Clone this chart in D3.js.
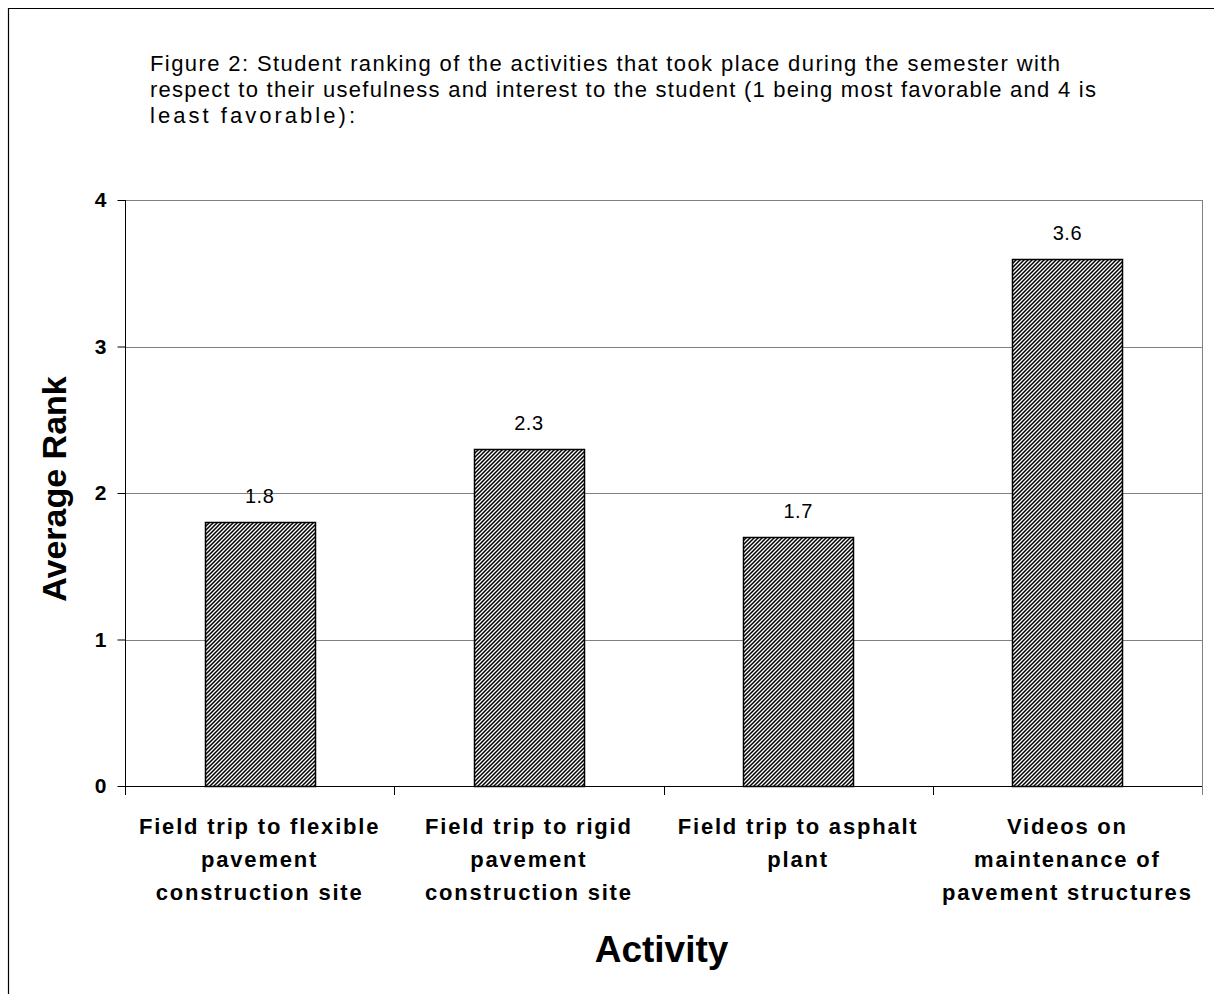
<!DOCTYPE html>
<html>
<head>
<meta charset="utf-8">
<script src="https://cdn.jsdelivr.net/npm/d3@7/dist/d3.min.js"></script>
<style>
  html, body { margin: 0; padding: 0; background: #fff; }
  svg { display: block; font-family: "Liberation Sans", Arial, sans-serif; }
</style>
</head>
<body>
<svg id="chart" width="1214" height="994"></svg>
<script>
// Activities ranked by students, with their average rank
const categories = [
  ["Field trip to flexible", "pavement", "construction site"],
  ["Field trip to rigid", "pavement", "construction site"],
  ["Field trip to asphalt", "plant"],
  ["Videos on", "maintenance of", "pavement structures"]
];
const averageRank = [1.8, 2.3, 1.7, 3.6];
const yTicks = [0, 1, 2, 3, 4];
const titleLines = [
  "Figure 2: Student ranking of  the activities that took place during the semester with",
  "respect to their usefulness  and interest to the student (1 being most favorable and 4 is",
  "least favorable):"
];
const titleWidths = [910, 946, 205];

const svg = d3.select("#chart");
const W = 1214, H = 994;
const plot = { left: 125, top: 200, right: 1202, bottom: 786 };

// Outer frame (top and left edges)
svg.append("path")
  .attr("d", `M8.5,${H} L8.5,8.5 L${W},8.5`)
  .attr("fill", "none").attr("stroke", "#000").attr("stroke-width", 1.2);

// Title
const title = svg.append("text").attr("font-size", 22).attr("fill", "#000");
titleLines.forEach((t, i) => {
  title.append("tspan").attr("x", 150).attr("y", 71 + i * 26)
    .attr("textLength", titleWidths[i]).attr("lengthAdjust", "spacing").text(t);
});

// Hatch pattern for the bars
const defs = svg.append("defs");
const pat = defs.append("pattern")
  .attr("id", "hatch").attr("patternUnits", "userSpaceOnUse")
  .attr("width", 4).attr("height", 4);
pat.append("rect").attr("width", 4).attr("height", 4).attr("fill", "#fff");
pat.append("path")
  .attr("d", "M-1,1 l2,-2 M0,4 l4,-4 M3,5 l2,-2")
  .attr("stroke", "#000").attr("stroke-width", 1.5);

const idx = d3.range(categories.length);
const x = d3.scaleBand().domain(idx).range([plot.left, plot.right]).paddingInner(0).paddingOuter(0);
const y = d3.scaleLinear().domain([0, 4]).range([plot.bottom, plot.top]);

// Horizontal gridlines
svg.append("g").selectAll("line").data(yTicks.filter(d => d > 0)).join("line")
  .attr("x1", plot.left).attr("x2", plot.right)
  .attr("y1", d => Math.round(y(d)) + 0.5).attr("y2", d => Math.round(y(d)) + 0.5)
  .attr("stroke", "#808080").attr("stroke-width", 1);

// Right edge of plot area
svg.append("line")
  .attr("x1", plot.right + 0.5).attr("x2", plot.right + 0.5)
  .attr("y1", plot.top).attr("y2", plot.bottom + 9)
  .attr("stroke", "#808080");

// Bars
const barW = 110;
svg.append("g").selectAll("rect").data(idx).join("rect")
  .attr("x", i => Math.round(x(i) + x.bandwidth() / 2 - barW / 2) + 0.5)
  .attr("y", i => Math.round(y(averageRank[i])) + 0.5)
  .attr("width", barW)
  .attr("height", i => y(0) - Math.round(y(averageRank[i])))
  .attr("fill", "url(#hatch)")
  .attr("stroke", "#000").attr("stroke-width", 1.5);

// Value labels
svg.append("g").selectAll("text").data(idx).join("text")
  .attr("x", i => x(i) + x.bandwidth() / 2)
  .attr("y", i => y(averageRank[i]) - 19)
  .attr("text-anchor", "middle").attr("font-size", 20).attr("letter-spacing", 0.5)
  .text(i => averageRank[i].toFixed(1));

// Y axis
const yAxis = svg.append("g").attr("transform", `translate(${plot.left + 0.5},0)`)
  .call(d3.axisLeft(y).tickValues(yTicks).tickSize(8).tickPadding(11).tickFormat(d3.format("d")));
yAxis.select(".domain").attr("stroke", "#000").attr("d", `M0,${plot.top}V${plot.bottom}`);
yAxis.selectAll(".tick line").attr("stroke", "#000");
yAxis.selectAll(".tick text").attr("font-size", 21).attr("font-weight", "bold")
  .attr("font-family", "Liberation Sans, Arial, sans-serif").attr("fill", "#000");

// X axis with ticks on category boundaries
const xg = svg.append("g");
xg.append("line")
  .attr("x1", plot.left).attr("x2", plot.right)
  .attr("y1", plot.bottom + 0.5).attr("y2", plot.bottom + 0.5)
  .attr("stroke", "#000");
xg.selectAll("line.tk").data(idx.concat([idx.length])).join("line").attr("class", "tk")
  .attr("x1", i => Math.round(i < idx.length ? x(i) : plot.right) + 0.5)
  .attr("x2", i => Math.round(i < idx.length ? x(i) : plot.right) + 0.5)
  .attr("y1", plot.bottom).attr("y2", plot.bottom + 9)
  .attr("stroke", i => i === idx.length ? "#808080" : "#000");

// Category labels
const catG = svg.append("g");
idx.forEach(i => {
  const t = catG.append("text")
    .attr("text-anchor", "middle").attr("font-size", 22).attr("font-weight", "bold")
    .attr("letter-spacing", 1.8);
  categories[i].forEach((line, k) => {
    t.append("tspan").attr("x", x(i) + x.bandwidth() / 2).attr("y", 834 + k * 33).text(line);
  });
});

// Axis titles
svg.append("text")
  .attr("transform", `translate(66,${(plot.top + plot.bottom) / 2 - 4}) rotate(-90)`)
  .attr("text-anchor", "middle").attr("font-size", 34).attr("font-weight", "bold")
  .text("Average Rank");
svg.append("text")
  .attr("x", (plot.left + plot.right) / 2 - 2).attr("y", 962)
  .attr("text-anchor", "middle").attr("font-size", 37).attr("font-weight", "bold")
  .text("Activity");
</script>
</body>
</html>
